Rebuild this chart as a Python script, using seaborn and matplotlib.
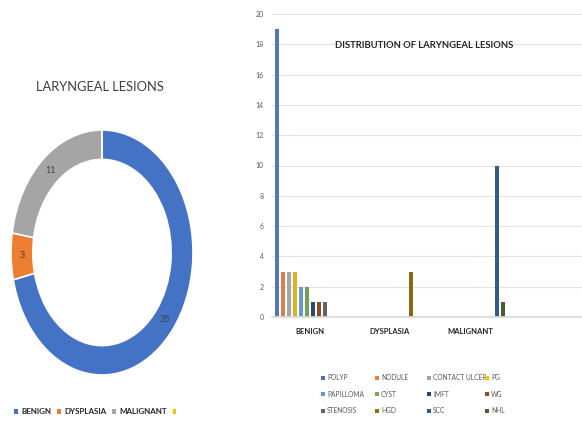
import matplotlib
matplotlib.use("Agg")
import matplotlib.pyplot as plt
import seaborn as sns
import pandas as pd
from matplotlib.patches import Patch

# ---- data ----
pie_categories = ["BENIGN", "DYSPLASIA", "MALIGNANT", ""]
pie_values = [35, 3, 11, 0]
pie_colors = ["#4472C4", "#ED7D31", "#A5A5A5", "#FFC000"]

bar_categories = ["BENIGN", "DYSPLASIA", "MALIGNANT"]
series = ["POLYP", "NODULE", "CONTACT ULCER", "PG", "PAPILLOMA", "CYST",
          "IMFT", "WG", "STENOSIS", "HGD", "SCC", "NHL"]
benign_vals = [19, 3, 3, 3, 2, 2, 1, 1, 1, 0, 0, 0]
dysplasia_vals = [0, 0, 0, 0, 0, 0, 0, 0, 0, 3, 0, 0]
malignant_vals = [0, 0, 0, 0, 0, 0, 0, 0, 0, 0, 10, 1]
series_colors = ["#4472C4", "#ED7D31", "#A5A5A5", "#FFC000", "#5B9BD5", "#70AD47",
                 "#264478", "#9E480E", "#636363", "#997300", "#255E91", "#43682B"]

sns.set_theme(style="white")
plt.rcParams['font.family'] = ['Lato', 'DejaVu Sans']

W, H = 582, 421
fig = plt.figure(figsize=(W / 100, H / 100), dpi=100)

def px_axes(x0, y0, x1, y1):
    return fig.add_axes([x0 / W, 1 - y1 / H, (x1 - x0) / W, (y1 - y0) / H])

# ---- donut ----
axp = px_axes(11, 130, 193, 375)
total = sum(pie_values)
wedges, texts, autotexts = axp.pie(
    pie_values, colors=pie_colors, startangle=90, counterclock=False,
    wedgeprops=dict(width=0.24, edgecolor="white", linewidth=1.2),
    autopct=lambda p: f"{round(p * total / 100):d}" if p > 0 else "",
    pctdistance=0.88, textprops=dict(fontsize=6.5, color="#404040"))
axp.set_aspect("auto")
axp.set_xlim(-1, 1)
axp.set_ylim(-1, 1)
axp.axis("off")
fig.text(100 / W, 1 - 87 / H, "LARYNGEAL LESIONS", ha="center", va="center",
         fontsize=9.3, color="#404040")

pie_handles = [Patch(facecolor=c, edgecolor="none") for c in pie_colors]
fig.legend(pie_handles, pie_categories, loc="center left",
           bbox_to_anchor=(7 / W, 1 - 412 / H), ncol=4, frameon=False,
           handlelength=0.45, handleheight=0.45, handletextpad=0.4,
           columnspacing=0.75, labelcolor="#262626",
           prop=dict(family=["Lato", "DejaVu Sans"], weight="bold", size=5.8))

# ---- bars ----
rows = []
for cat, vals in zip(bar_categories, [benign_vals, dysplasia_vals, malignant_vals]):
    for s, v in zip(series, vals):
        rows.append({"category": cat, "series": s, "value": v})
df = pd.DataFrame(rows)

axb = px_axes(272, 14, 582, 317)
sns.barplot(data=df, x="category", y="value", hue="series", hue_order=series,
            order=bar_categories, palette=series_colors, width=0.9, gap=0.2,
            linewidth=0, ax=axb, legend=False)
axb.set_xlim(-0.475, 3.4)
axb.set_ylim(0, 20)
axb.set_yticks(range(0, 21, 2))
axb.set_xlabel("")
axb.set_ylabel("")
axb.yaxis.grid(True, color="#e3e3e3", linewidth=0.8)
axb.set_axisbelow(True)
for side in ["left", "top", "right"]:
    axb.spines[side].set_visible(False)
axb.spines["bottom"].set_color("#d9d9d9")
axb.tick_params(axis="y", labelsize=5, labelcolor="#595959", length=0, pad=6)
axb.tick_params(axis="x", labelsize=5.5, labelcolor="#262626", length=0, pad=8)
for t in axb.get_xticklabels():
    t.set_fontweight("bold")
fig.text(424 / W, 1 - 46 / H, "DISTRIBUTION OF LARYNGEAL LESIONS", ha="center",
         va="center", fontsize=6.8, fontweight="bold", color="#262626")

# bar legend: 4 columns, each placed individually
col_x = [321, 375, 427, 485]
for ci in range(4):
    idx = [ci, ci + 4, ci + 8]
    hs = [Patch(facecolor=series_colors[i], edgecolor="none") for i in idx]
    ls = [series[i] for i in idx]
    fig.legend(hs, ls, loc="upper left", bbox_to_anchor=(col_x[ci] / W, 1 - 374 / H),
               ncol=1, frameon=False, fontsize=4.8, handlelength=0.6,
               handleheight=0.6, handletextpad=0.3, labelspacing=1.45,
               borderaxespad=0, borderpad=0, labelcolor="#595959")

fig.savefig("out.png", dpi=100)
